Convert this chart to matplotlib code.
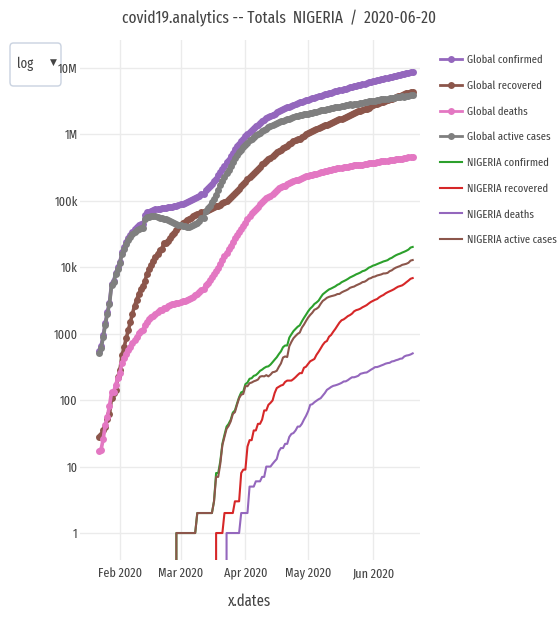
import numpy as np
import pandas as pd
import matplotlib
matplotlib.use("Agg")
import matplotlib.pyplot as plt
import matplotlib.dates as mdates
from matplotlib.patches import FancyBboxPatch
from matplotlib.ticker import FixedLocator, FixedFormatter

# daily totals, world (2020-01-22 .. 2020-06-20)
global_confirmed = [
    555, 654, 941, 1434, 2118, 2927, 5578, 6166, 8234, 9927,
    12038, 16787, 19887, 23898, 27643, 30802, 34395, 37129, 40159, 42762,
    44802, 45221, 60368, 66885, 69030, 71224, 73258, 75136, 75639, 76197,
    76819, 78572, 78958, 79561, 80406, 81388, 82746, 84112, 86011,
    88369, 90306, 92840, 95120, 97886, 101801, 105847, 109821, 113590, 118620,
    125875, 128352, 145205, 156101, 167454, 181574, 197102, 214821, 242570, 272208,
    304507, 336953, 378231, 418041, 467653, 529591, 593291, 660706, 720117, 782365,
    857487,
    932605, 1013466, 1095917, 1176060, 1249754, 1321481, 1396476, 1479804, 1565278, 1657526,
    1735650, 1834721, 1904838, 1976191, 2056054, 2152437, 2240190, 2317758, 2401378, 2472259,
    2549123, 2624074, 2708885, 2795735, 2881140, 2955033, 3023722, 3097229, 3172287, 3256846,
    3343777, 3427343, 3506729, 3583055, 3662691, 3755341, 3845718, 3938064, 4024009, 4101699,
    4177504, 4261747, 4347018, 4442163, 4542347, 4634068, 4713620, 4801943, 4897492, 4996472,
    5102424, 5210817, 5310362, 5407613, 5495061, 5589626, 5691790, 5808946, 5930105, 6059017,
    6185530,
    6280725, 6401536, 6520924, 6647861, 6778724, 6914666, 7026925, 7129150, 7253492, 7387517,
    7525631, 7654725, 7790735, 7924156, 8043794, 8185197, 8327050, 8466978, 8647784, 8805336,
]
global_recovered = [
    28, 30, 36, 39, 52, 61, 107, 126, 143, 222,
    284, 472, 623, 852, 1124, 1487, 2011, 2616, 3244, 3946,
    4683, 5150, 6295, 8058, 9395, 10865, 12583, 14352, 16121, 18177,
    18890, 22886, 23394, 25227, 27905, 30384, 33277, 36711, 39782,
    42716, 45602, 48228, 51170, 53796, 55865, 58358, 60694, 62494, 64404,
    67003, 68324, 70251, 72624, 76034, 78088, 80840, 83207, 84854, 87256,
    91499, 97704, 98347, 107888, 113787, 122146, 130702, 139403, 149085, 164565,
    178034,
    193177, 210263, 225796, 246152, 259999, 276515, 300054, 328661, 353975, 376096,
    402110, 421722, 448655, 474261, 511019, 542107, 568343, 592319, 623903, 645738,
    680400, 710263, 739214, 790170, 817049, 844150, 865824, 906598, 948665, 1014765,
    1052527, 1093028, 1125283, 1162878, 1198766, 1245526, 1284677, 1322454, 1375677, 1408919,
    1456929, 1493341, 1548552, 1587811, 1637065, 1693197, 1733956, 1786875, 1838995, 1897466,
    1948739, 2056643, 2112185, 2168563, 2231738, 2286956, 2349194, 2414430, 2450500, 2519612,
    2639599,
    2743637, 2821433, 2877105, 2952085, 3033329, 3112510, 3174871, 3256331, 3357223, 3460044,
    3544327, 3636264, 3728937, 3810106, 3883734, 4073955, 4156353, 4251811, 4328719, 4418645,
]
global_deaths = [
    17, 18, 26, 42, 56, 82, 131, 133, 171, 213,
    259, 362, 426, 492, 564, 634, 719, 806, 906, 1013,
    1113, 1118, 1371, 1523, 1666, 1770, 1868, 2007, 2122, 2247,
    2251, 2458, 2469, 2629, 2708, 2770, 2814, 2872, 2941,
    2996, 3085, 3160, 3254, 3348, 3460, 3558, 3802, 3988, 4262,
    4615, 4720, 5404, 5819, 6440, 7126, 7905, 8733, 9867, 11299,
    12973, 14623, 16497, 18615, 21181, 23970, 27198, 30652, 33925, 37582,
    42107,
    46809, 52983, 58787, 64606, 69374, 74565, 81865, 88338, 95455, 102525,
    108502, 114090, 119481, 125983, 134176, 143800, 153821, 159509, 165044, 169986,
    176583, 183066, 190858, 197159, 202846, 206544, 211167, 217153, 227638, 233388,
    238619, 243813, 247473, 251537, 257239, 263831, 269567, 274898, 279311, 282709,
    286330, 291942, 297197, 302418, 307666, 311781, 315185, 318481, 323285, 328115,
    332924, 338160, 342097, 345059, 346232, 347836, 351906, 356658, 360997, 365023,
    368173,
    372136, 375612, 381054, 387088, 391828, 396025, 399013, 402064, 406196, 411165,
    416254, 421034, 425419, 429216, 432487, 439052, 444405, 449697, 454881, 459350,
]

# daily totals, Nigeria (2020-02-27 .. 2020-06-20)
ng_confirmed = (
    [0, 1, 1]
    + [1] * 8 + [2] * 8
    + [3, 8, 8, 12, 22, 30, 40, 44, 51, 65, 70, 89, 111, 131, 135]
    + [174, 184, 210, 214, 232, 238, 254, 276, 288, 305,
       318, 323, 343, 373, 407, 442, 493, 542, 627, 665,
       665, 873, 981, 1095, 1182, 1273, 1337, 1532, 1728, 1932]
    + [2170, 2388, 2558, 2802, 2950, 3145, 3526, 3912, 4151, 4399,
       4641, 4787, 4971, 5162, 5445, 5621, 5959, 6175, 6401, 6677,
       7016, 7261, 7526, 7839, 8068, 8344, 8733, 8915, 9302, 9855, 10162]
    + [10578, 10819, 11166, 11516, 11844, 12233, 12486, 12801, 13464, 13873,
       14554, 15181, 15682, 16085, 16658, 17148, 17735, 18480, 19808, 20244]
)
ng_recovered = (
    [0, 0, 0]
    + [0] * 17 + [1] * 4 + [2] * 5 + [3] * 3 + [8, 9]
    + [9, 20, 25, 25, 35, 35, 44, 44, 51, 70,
       70, 85, 91, 99, 128, 152, 159, 166, 170, 188,
       197, 197, 197, 208, 222, 239, 255, 255, 307, 319]
    + [351, 385, 400, 417, 481, 534, 601, 679, 745, 778,
       902, 959, 1070, 1180, 1320, 1472, 1594, 1644, 1734, 1840,
       1907, 2007, 2174, 2263, 2311, 2385, 2501, 2592, 2697, 2856, 3007]
    + [3122, 3239, 3329, 3535, 3696, 3826, 4040, 4206, 4351, 4494,
       4663, 4891, 5101, 5220, 5349, 5623, 5967, 6307, 6718, 6879]
)
ng_deaths = (
    [0, 0, 0]
    + [0] * 22 + [1] * 7 + [2, 2]
    + [2, 2, 5, 5, 5, 6, 6, 6, 7, 7,
       10, 10, 10, 11, 12, 13, 17, 19, 19, 22,
       22, 28, 31, 32, 35, 40, 40, 44, 51, 58]
    + [68, 85, 87, 93, 98, 103, 107, 117, 128, 143,
       150, 158, 164, 167, 171, 176, 182, 191, 192, 200,
       211, 221, 221, 226, 233, 249, 254, 259, 261, 273, 287]
    + [299, 314, 315, 323, 333, 342, 354, 361, 365, 382,
       387, 399, 407, 420, 424, 455, 469, 475, 487, 506]
)

ytick_values = [1, 10, 100, 1000, 1e4, 1e5, 1e6, 1e7]
ytick_labels = ['1', '10', '100', '1000', '10k', '100k', '1M', '10M']

global_dates = pd.date_range('2020-01-22', periods=len(global_confirmed), freq='D')
ng_dates = pd.date_range('2020-02-27', periods=len(ng_confirmed), freq='D')

g_conf = np.array(global_confirmed)
g_rec = np.array(global_recovered)
g_dead = np.array(global_deaths)
g_active = g_conf - g_rec - g_dead
n_conf = np.array(ng_confirmed)
n_rec = np.array(ng_recovered)
n_dead = np.array(ng_deaths)
n_active = n_conf - n_rec - n_dead

plt.rcParams['font.family'] = ['Fira Sans Extra Condensed', 'DejaVu Sans']

txt = '#444444'
W, H = 558, 632
fig = plt.figure(figsize=(W / 100, H / 100), dpi=100)
ax = fig.add_axes([80 / W, 72 / H, 340 / W, 520 / H])

gkw = dict(linewidth=2.6, marker='o', markersize=5, markeredgewidth=0)
ax.plot(global_dates, g_conf, color='#9467bd', label='Global confirmed', **gkw)
ax.plot(global_dates, g_rec, color='#8c564b', label='Global recovered', **gkw)
ax.plot(global_dates, g_dead, color='#e377c2', label='Global deaths', **gkw)
ax.plot(global_dates, g_active, color='#7f7f7f', label='Global active cases', **gkw)

nkw = dict(linewidth=1.5)
ax.plot(ng_dates, n_conf, color='#2ca02c', label='NIGERIA confirmed', **nkw)
ax.plot(ng_dates, n_rec, color='#d62728', label='NIGERIA recovered', **nkw)
ax.plot(ng_dates, n_dead, color='#9467bd', label='NIGERIA deaths', **nkw)
ax.plot(ng_dates, n_active, color='#8c564b', label='NIGERIA active cases', **nkw)

ax.set_yscale('log', nonpositive='clip')
ax.set_ylim(10 ** -0.406, 10 ** 7.421)
ax.set_xlim(pd.Timestamp('2020-01-12 22:00'), pd.Timestamp('2020-06-23 12:00'))

ax.yaxis.set_major_locator(FixedLocator(ytick_values))
ax.yaxis.set_major_formatter(FixedFormatter(ytick_labels))
ax.yaxis.set_minor_locator(FixedLocator([]))
ax.xaxis.set_major_locator(mdates.MonthLocator())
ax.xaxis.set_major_formatter(mdates.DateFormatter('%b %Y'))

ax.grid(True, color='#ebebeb', linewidth=1)
ax.set_axisbelow(True)
for s in ax.spines.values():
    s.set_visible(False)
ax.tick_params(length=0, colors=txt)
ax.tick_params(axis='y', pad=1.5, labelsize=9.5)
ax.tick_params(axis='x', pad=5, labelsize=9.5)

ax.set_xlabel('x.dates', color=txt, fontsize=11.5, labelpad=10)
fig.text(0.5, 1 - 18 / H, 'covid19.analytics -- Totals  NIGERIA  /  2020-06-20',
         ha='center', va='center', color=txt, fontsize=12)

leg = ax.legend(loc='upper left', bbox_to_anchor=(440 / W, 1 - 55 / H),
                bbox_transform=fig.transFigure, frameon=False, fontsize=8.3,
                handlelength=1.9, handletextpad=0.45, labelspacing=1.3,
                borderaxespad=0, borderpad=0, numpoints=1)
for t in leg.get_texts():
    t.set_color(txt)
for h in leg.legend_handles[:4]:
    h.set_linewidth(2)

# scale selector box in the top-left corner, kept under the tick labels
box = FancyBboxPatch((10 / W, 1 - 86 / H), 51 / W, 43 / H,
                     boxstyle='round,pad=0,rounding_size=0.006',
                     transform=fig.transFigure, facecolor='white',
                     edgecolor='#c9d2e0', linewidth=1, zorder=-1)
fig.patches.append(box)
fig.text(17 / W, 1 - 64 / H, 'log', ha='left', va='center', color=txt, fontsize=10)
fig.text(53 / W, 1 - 62 / H, '\u25BC', ha='center', va='center', color=txt,
         fontsize=6.5, family='DejaVu Sans')

fig.savefig('out.png', dpi=100)
